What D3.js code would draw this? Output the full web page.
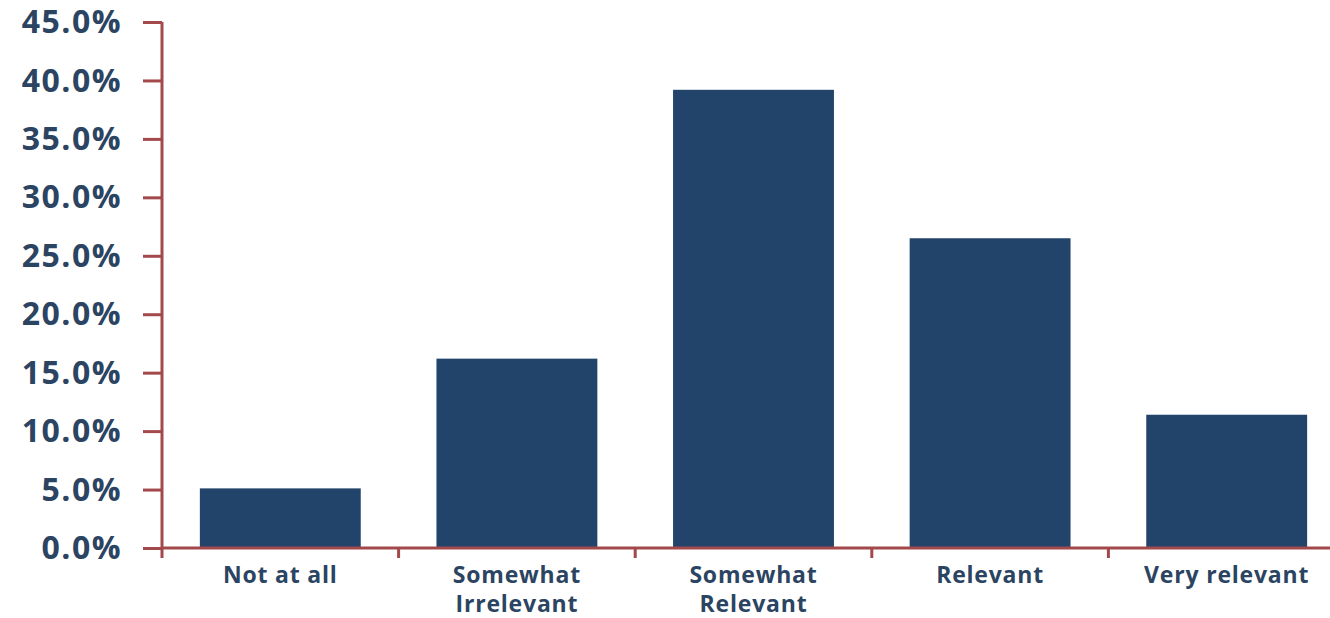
<!DOCTYPE html>
<html>
<head>
<meta charset="utf-8">
<script src="https://cdn.jsdelivr.net/npm/d3@7"></script>
<style>
  body { margin: 0; background: #fff; }
  .tick text { font-family: "Open Sans", sans-serif; font-weight: 700; fill: #2b4462; }
</style>
</head>
<body>
<div id="chart"></div>
<script>
// data
const categories = ["Not at all", "Somewhat Irrelevant", "Somewhat Relevant", "Relevant", "Very relevant"];
const labelLines = [["Not at all"], ["Somewhat", "Irrelevant"], ["Somewhat", "Relevant"], ["Relevant"], ["Very relevant"]];
const values = [5.1, 16.2, 39.2, 26.5, 11.4];
const yTicks = [0, 5, 10, 15, 20, 25, 30, 35, 40, 45];

const W = 1330, H = 618;
const margin = {top: 22, right: -15, bottom: 70, left: 162};
const width = W - margin.left - margin.right;
const height = H - margin.top - margin.bottom;

const svg = d3.select("#chart").append("svg")
    .attr("width", W).attr("height", H);
const g = svg.append("g").attr("transform", `translate(${margin.left},${margin.top})`);

const axisColor = "#a3484b";
const barColor = "#22446a";

const y = d3.scaleLinear().domain([0, 45]).range([height, 0]);
const xTicks = d3.scaleBand().domain(categories).range([0, width]).padding(0);
const x = d3.scaleBand().domain(categories).range([0, width]).paddingInner(0.32).paddingOuter(0.16);

// bars
g.selectAll(".bar").data(values).enter().append("rect")
    .attr("class", "bar")
    .attr("x", (d, i) => x(categories[i]))
    .attr("width", x.bandwidth())
    .attr("y", d => y(d))
    .attr("height", d => height - y(d))
    .attr("fill", barColor);

// y axis
const yAxis = g.append("g")
    .call(d3.axisLeft(y).tickValues(yTicks).tickFormat(d => d.toFixed(1) + "%").tickSize(19).tickPadding(21));
yAxis.selectAll("text").style("font-size", "32px").style("letter-spacing", "1.5px").attr("dy", "0.33em");
yAxis.selectAll("line").attr("stroke", axisColor).attr("stroke-width", 3);
yAxis.select(".domain").attr("stroke", axisColor).attr("stroke-width", 3)
    .attr("d", `M0,0V${height + 10}`);

// x axis
const xAxis = g.append("g").attr("transform", `translate(0,${height})`)
    .call(d3.axisBottom(xTicks).tickSize(0).tickFormat(""));
xAxis.select(".domain").attr("stroke", axisColor).attr("stroke-width", 3)
    .attr("d", `M0,0H${width}`);

// category boundary ticks
g.selectAll(".xtick").data(categories.slice(1)).enter().append("line")
    .attr("x1", d => xTicks(d)).attr("x2", d => xTicks(d))
    .attr("y1", height).attr("y2", height + 10)
    .attr("stroke", axisColor).attr("stroke-width", 3);

// category labels
const lbl = g.selectAll(".xlabel").data(labelLines).enter().append("text")
    .attr("class", "xlabel")
    .attr("x", (d, i) => xTicks(categories[i]) + xTicks.bandwidth() / 2)
    .attr("y", height + 35)
    .attr("text-anchor", "middle")
    .style("font-family", "'Open Sans', sans-serif")
    .style("font-weight", 700)
    .style("font-size", "23px")
    .style("letter-spacing", "0.8px")
    .attr("fill", "#2b4462");
lbl.selectAll("tspan").data(d => d).enter().append("tspan")
    .attr("x", function() { return this.parentNode.getAttribute("x"); })
    .attr("dy", (d, i) => i === 0 ? 0 : 29)
    .text(d => d);
</script>
</body>
</html>
